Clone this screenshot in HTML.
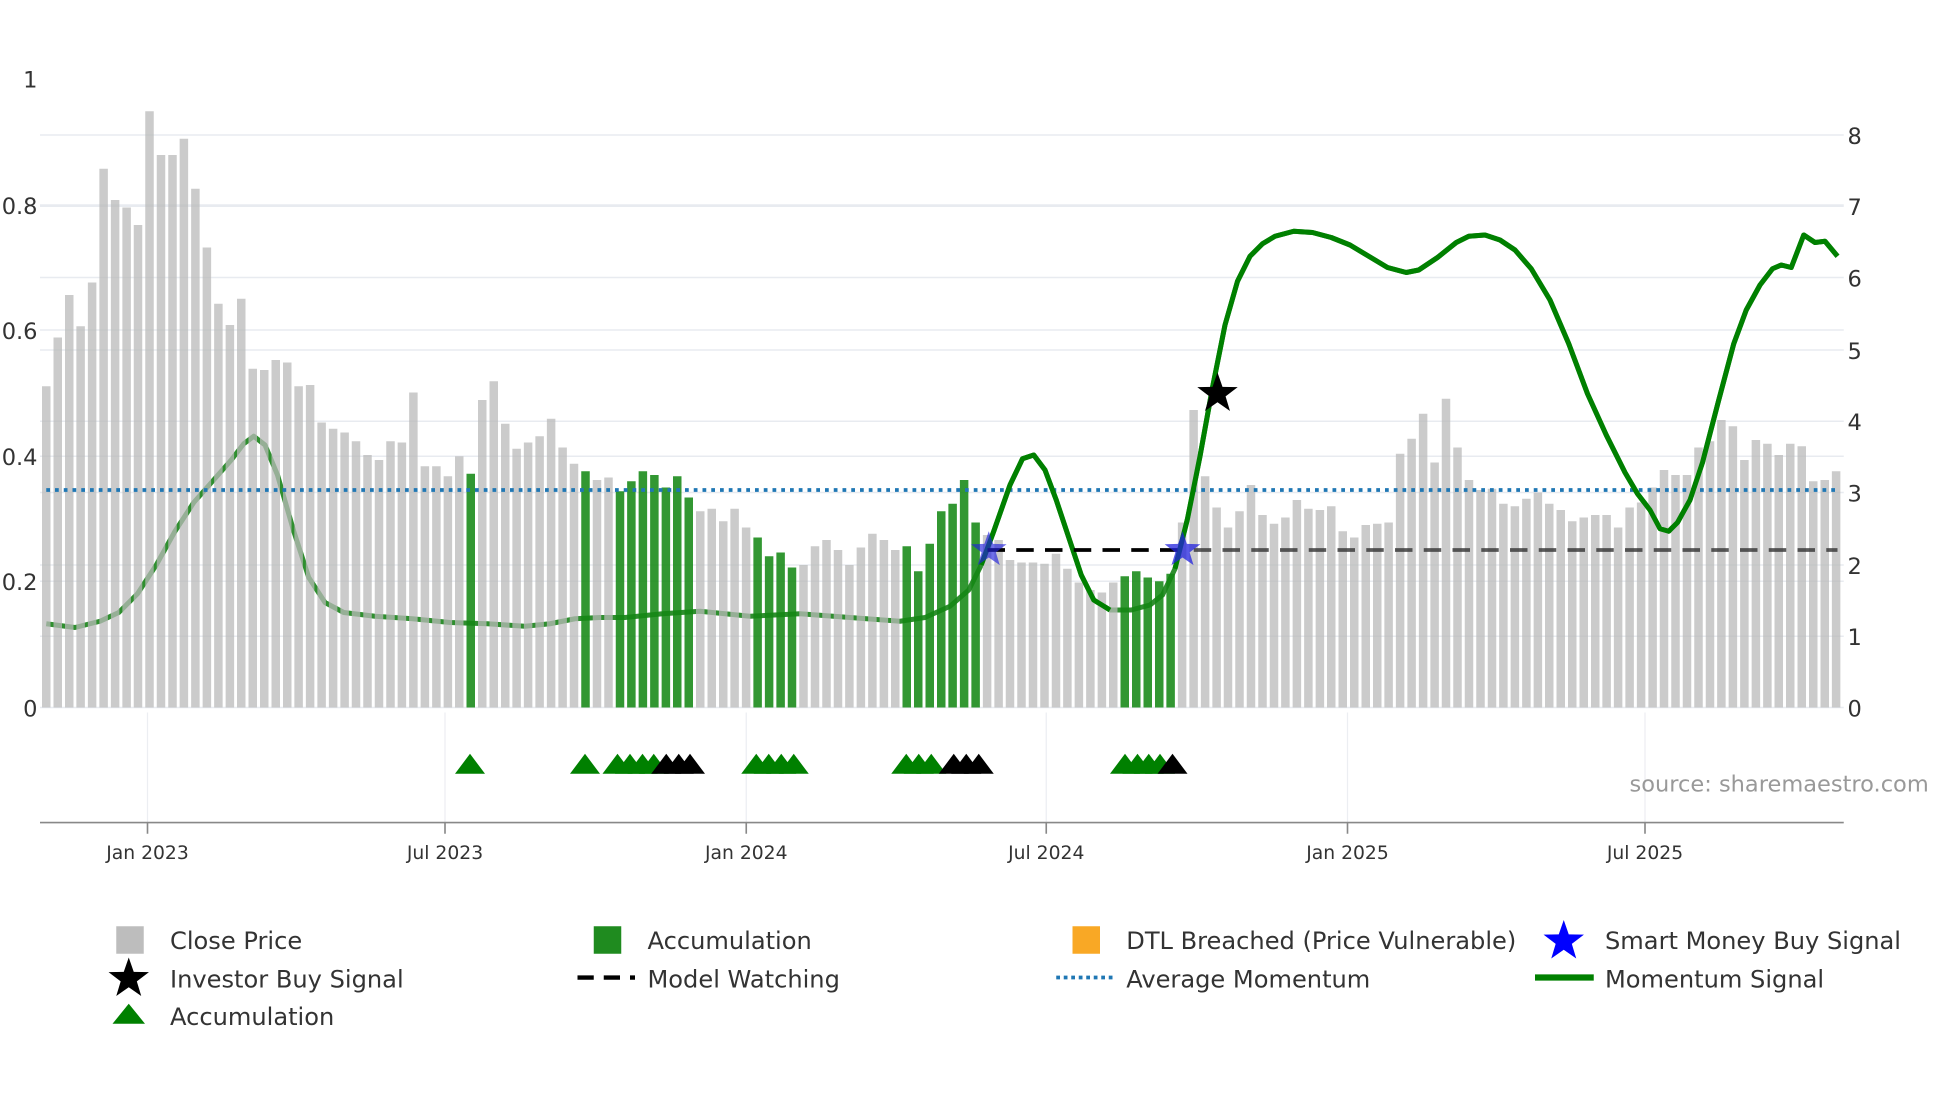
<!DOCTYPE html>
<html><head><meta charset="utf-8"><style>
html,body{margin:0;padding:0;background:#fff;}
svg{display:block;font-family:"DejaVu Sans","Liberation Sans",sans-serif;}
</style></head><body>
<svg width="1960" height="1102" viewBox="0 0 1568 881.6" xmlns="http://www.w3.org/2000/svg">
<defs><polygon id="st" points="0,-1 0.235,-0.324 0.951,-0.309 0.380,0.124 0.588,0.809 0,0.4 -0.588,0.809 -0.380,0.124 -0.951,-0.309 -0.235,-0.324"/></defs>
<rect width="1568" height="882" fill="#fff"/>
<g stroke="#e8ebf0" stroke-width="1.2">
<line x1="32" x2="1475" y1="108" y2="108"/><line x1="32" x2="1475" y1="165" y2="165"/>
<line x1="32" x2="1475" y1="222" y2="222"/><line x1="32" x2="1475" y1="280" y2="280"/>
<line x1="32" x2="1475" y1="337" y2="337"/><line x1="32" x2="1475" y1="394" y2="394"/>
<line x1="32" x2="1475" y1="452" y2="452"/><line x1="32" x2="1475" y1="509" y2="509"/>
<line x1="32" x2="1475" y1="164" y2="164"/><line x1="32" x2="1475" y1="264" y2="264"/>
<line x1="32" x2="1475" y1="365" y2="365"/><line x1="32" x2="1475" y1="465" y2="465"/>
<line x1="32" x2="1475" y1="566" y2="566"/>
</g>
<g stroke="#eceef2" stroke-width="1">
<line x1="118" x2="118" y1="570" y2="658"/><line x1="356" x2="356" y1="570" y2="658"/>
<line x1="597" x2="597" y1="570" y2="658"/><line x1="837" x2="837" y1="570" y2="658"/>
<line x1="1078" x2="1078" y1="570" y2="658"/><line x1="1316" x2="1316" y1="570" y2="658"/>
</g>
<g font-size="18" fill="#333">
<text x="30" y="70" text-anchor="end">1</text>
<text x="30" y="171" text-anchor="end">0.8</text>
<text x="30" y="271" text-anchor="end">0.6</text>
<text x="30" y="372" text-anchor="end">0.4</text>
<text x="30" y="472" text-anchor="end">0.2</text>
<text x="30" y="573" text-anchor="end">0</text>
<text x="1478" y="115">8</text><text x="1478" y="172">7</text><text x="1478" y="229">6</text>
<text x="1478" y="287">5</text><text x="1478" y="344">4</text><text x="1478" y="401">3</text>
<text x="1478" y="459">2</text><text x="1478" y="516">1</text><text x="1478" y="573">0</text>
</g>
<polyline fill="none" stroke="#2f8f2f" stroke-width="4" stroke-linejoin="round" points="37,499 60,502 80,497 95,490 110,475 125,452 140,425 155,402 170,385 185,368 195,355 203,349 212,356 222,380 235,425 247,462 260,482 275,490 300,493 330,495 360,498 390,499 420,501 440,499 460,495 480,494 500,494 530,491 560,489 600,493 640,491 680,494 720,497 740,494 760,485 775,472 785,452 795,425 808,388 818,367 827,364 836,376 845,400 855,430 865,460 875,480 888,488 905,488 920,484 930,476 940,455 950,415 960,365 970,310 980,260 990,225 1000,205 1010,195 1020,189 1035,185 1050,186 1065,190 1080,196 1095,205 1110,214 1125,218 1135,216 1150,206 1165,194 1175,189 1188,188 1200,192 1212,200 1225,215 1240,240 1255,275 1270,315 1285,348 1300,378 1310,395 1320,408 1328,423 1335,425 1342,418 1352,400 1362,370 1375,320 1387,275 1397,248 1408,228 1418,215 1425,212 1433,214 1443,188 1452,194 1460,193 1470,205"/>
<path fill="rgba(185,185,185,0.75)" d="M33.6 309h6.8V566h-6.8zM42.8 270h6.8V566h-6.8zM52 236h6.8V566h-6.8zM61.1 261h6.8V566h-6.8zM70.3 226h6.8V566h-6.8zM79.5 135h6.8V566h-6.8zM88.7 160h6.8V566h-6.8zM97.9 166h6.8V566h-6.8zM107 180h6.8V566h-6.8zM116.2 89h6.8V566h-6.8zM125.4 124h6.8V566h-6.8zM134.6 124h6.8V566h-6.8zM143.7 111h6.8V566h-6.8zM152.9 151h6.8V566h-6.8zM162.1 198h6.8V566h-6.8zM171.3 243h6.8V566h-6.8zM180.5 260h6.8V566h-6.8zM189.6 239h6.8V566h-6.8zM198.8 295h6.8V566h-6.8zM208 296h6.8V566h-6.8zM217.2 288h6.8V566h-6.8zM226.4 290h6.8V566h-6.8zM235.5 309h6.8V566h-6.8zM244.7 308h6.8V566h-6.8zM253.9 338h6.8V566h-6.8zM263.1 343h6.8V566h-6.8zM272.3 346h6.8V566h-6.8zM281.4 353h6.8V566h-6.8zM290.6 364h6.8V566h-6.8zM299.8 368h6.8V566h-6.8zM309 353h6.8V566h-6.8zM318.1 354h6.8V566h-6.8zM327.3 314h6.8V566h-6.8zM336.5 373h6.8V566h-6.8zM345.7 373h6.8V566h-6.8zM354.9 381h6.8V566h-6.8zM364 365h6.8V566h-6.8zM382.4 320h6.8V566h-6.8zM391.6 305h6.8V566h-6.8zM400.8 339h6.8V566h-6.8zM409.9 359h6.8V566h-6.8zM419.1 354h6.8V566h-6.8zM428.3 349h6.8V566h-6.8zM437.5 335h6.8V566h-6.8zM446.7 358h6.8V566h-6.8zM455.8 371h6.8V566h-6.8zM474.2 384h6.8V566h-6.8zM483.4 382h6.8V566h-6.8zM556.8 409h6.8V566h-6.8zM566 407h6.8V566h-6.8zM575.2 417h6.8V566h-6.8zM584.3 407h6.8V566h-6.8zM593.5 422h6.8V566h-6.8zM639.4 452h6.8V566h-6.8zM648.6 437h6.8V566h-6.8zM657.8 432h6.8V566h-6.8zM667 440h6.8V566h-6.8zM676.1 452h6.8V566h-6.8zM685.3 438h6.8V566h-6.8zM694.5 427h6.8V566h-6.8zM703.7 432h6.8V566h-6.8zM712.8 440h6.8V566h-6.8zM786.3 428h6.8V566h-6.8zM795.5 432h6.8V566h-6.8zM804.6 448h6.8V566h-6.8zM813.8 450h6.8V566h-6.8zM823 450h6.8V566h-6.8zM832.2 451h6.8V566h-6.8zM841.4 443h6.8V566h-6.8zM850.5 455h6.8V566h-6.8zM859.7 466h6.8V566h-6.8zM868.9 472h6.8V566h-6.8zM878.1 474h6.8V566h-6.8zM887.2 466h6.8V566h-6.8zM942.3 418h6.8V566h-6.8zM951.5 328h6.8V566h-6.8zM960.7 381h6.8V566h-6.8zM969.9 406h6.8V566h-6.8zM979 422h6.8V566h-6.8zM988.2 409h6.8V566h-6.8zM997.4 388h6.8V566h-6.8zM1006.6 412h6.8V566h-6.8zM1015.8 419h6.8V566h-6.8zM1024.9 414h6.8V566h-6.8zM1034.1 400h6.8V566h-6.8zM1043.3 407h6.8V566h-6.8zM1052.5 408h6.8V566h-6.8zM1061.6 405h6.8V566h-6.8zM1070.8 425h6.8V566h-6.8zM1080 430h6.8V566h-6.8zM1089.2 420h6.8V566h-6.8zM1098.4 419h6.8V566h-6.8zM1107.5 418h6.8V566h-6.8zM1116.7 363h6.8V566h-6.8zM1125.9 351h6.8V566h-6.8zM1135.1 331h6.8V566h-6.8zM1144.3 370h6.8V566h-6.8zM1153.4 319h6.8V566h-6.8zM1162.6 358h6.8V566h-6.8zM1171.8 384h6.8V566h-6.8zM1181 392h6.8V566h-6.8zM1190.2 391h6.8V566h-6.8zM1199.3 403h6.8V566h-6.8zM1208.5 405h6.8V566h-6.8zM1217.7 399h6.8V566h-6.8zM1226.9 394h6.8V566h-6.8zM1236 403h6.8V566h-6.8zM1245.2 408h6.8V566h-6.8zM1254.4 417h6.8V566h-6.8zM1263.6 414h6.8V566h-6.8zM1272.8 412h6.8V566h-6.8zM1281.9 412h6.8V566h-6.8zM1291.1 422h6.8V566h-6.8zM1300.3 406h6.8V566h-6.8zM1309.5 402h6.8V566h-6.8zM1318.7 390h6.8V566h-6.8zM1327.8 376h6.8V566h-6.8zM1337 380h6.8V566h-6.8zM1346.2 380h6.8V566h-6.8zM1355.4 358h6.8V566h-6.8zM1364.6 353h6.8V566h-6.8zM1373.7 336h6.8V566h-6.8zM1382.9 341h6.8V566h-6.8zM1392.1 368h6.8V566h-6.8zM1401.3 352h6.8V566h-6.8zM1410.5 355h6.8V566h-6.8zM1419.6 364h6.8V566h-6.8zM1428.8 355h6.8V566h-6.8zM1438 357h6.8V566h-6.8zM1447.2 385h6.8V566h-6.8zM1456.4 384h6.8V566h-6.8zM1465.5 377h6.8V566h-6.8z"/>
<path fill="rgba(20,135,20,0.87)" d="M373.2 379h6.8V566h-6.8zM465 377h6.8V566h-6.8zM492.6 393h6.8V566h-6.8zM501.7 385h6.8V566h-6.8zM510.9 377h6.8V566h-6.8zM520.1 380h6.8V566h-6.8zM529.3 390h6.8V566h-6.8zM538.4 381h6.8V566h-6.8zM547.6 398h6.8V566h-6.8zM602.7 430h6.8V566h-6.8zM611.9 445h6.8V566h-6.8zM621.1 442h6.8V566h-6.8zM630.2 454h6.8V566h-6.8zM722 437h6.8V566h-6.8zM731.2 457h6.8V566h-6.8zM740.4 435h6.8V566h-6.8zM749.6 409h6.8V566h-6.8zM758.7 403h6.8V566h-6.8zM767.9 384h6.8V566h-6.8zM777.1 418h6.8V566h-6.8zM896.4 461h6.8V566h-6.8zM905.6 457h6.8V566h-6.8zM914.8 462h6.8V566h-6.8zM924 465h6.8V566h-6.8zM933.1 459h6.8V566h-6.8z"/>
<line x1="37" x2="1472" y1="392" y2="392" stroke="#1f77b4" stroke-width="3" stroke-dasharray="3,4"/>
<polyline fill="none" stroke="#008000" stroke-width="4" stroke-linejoin="round" points="785,452 795,425 808,388 818,367 827,364 836,376 845,400 855,430 865,460 875,480 888,488"/>
<polyline fill="none" stroke="#008000" stroke-width="4" stroke-linejoin="round" points="940,455 950,415 960,365 970,310 980,260 990,225 1000,205 1010,195 1020,189 1035,185 1050,186 1065,190 1080,196 1095,205 1110,214 1125,218 1135,216 1150,206 1165,194 1175,189 1188,188 1200,192 1212,200 1225,215 1240,240 1255,275 1270,315 1285,348 1300,378 1310,395 1320,408 1328,423 1335,425 1342,418 1352,400 1362,370 1375,320 1387,275 1397,248 1408,228 1418,215 1425,212 1433,214 1443,188 1452,194 1460,193 1470,205"/>
<line x1="790" x2="945" y1="440" y2="440" stroke="#000" stroke-width="3" stroke-dasharray="14,9"/>
<line x1="955" x2="1470" y1="440" y2="440" stroke="#333" stroke-width="3" stroke-dasharray="14,9" opacity="0.8"/>
<use href="#st" transform="translate(791,440) scale(15)" fill="#2222dd" opacity="0.65"/>
<use href="#st" transform="translate(946,440) scale(15)" fill="#2222dd" opacity="0.75"/>
<use href="#st" transform="translate(974,315) scale(17)" fill="#000"/>
<g fill="#008000">
<polygon points="376,603 388,619 364,619"/><polygon points="468,603 480,619 456,619"/>
<polygon points="494,603 506,619 482,619"/><polygon points="504,603 516,619 492,619"/>
<polygon points="514,603 526,619 502,619"/><polygon points="523,603 535,619 511,619"/>
<polygon points="605,603 617,619 593,619"/><polygon points="615,603 627,619 603,619"/>
<polygon points="625,603 637,619 613,619"/><polygon points="635,603 647,619 623,619"/>
<polygon points="725,603 737,619 713,619"/><polygon points="735,603 747,619 723,619"/>
<polygon points="745,603 757,619 733,619"/>
<polygon points="900,603 912,619 888,619"/><polygon points="910,603 922,619 898,619"/>
<polygon points="919,603 931,619 907,619"/><polygon points="928,603 940,619 916,619"/>
</g>
<g fill="#000">
<polygon points="533,603 545,619 521,619"/><polygon points="543,603 555,619 531,619"/>
<polygon points="552,603 564,619 540,619"/>
<polygon points="763,603 775,619 751,619"/><polygon points="773,603 785,619 761,619"/>
<polygon points="783,603 795,619 771,619"/>
<polygon points="938,603 950,619 926,619"/>
</g>
<line x1="32" x2="1475" y1="658" y2="658" stroke="#888" stroke-width="1.3"/>
<g stroke="#888" stroke-width="1.3">
<line x1="118" x2="118" y1="658" y2="667"/><line x1="356" x2="356" y1="658" y2="667"/>
<line x1="597" x2="597" y1="658" y2="667"/><line x1="837" x2="837" y1="658" y2="667"/>
<line x1="1078" x2="1078" y1="658" y2="667"/><line x1="1316" x2="1316" y1="658" y2="667"/>
</g>
<g font-size="15" fill="#333" text-anchor="middle">
<text x="118" y="687">Jan 2023</text><text x="356" y="687">Jul 2023</text>
<text x="597" y="687">Jan 2024</text><text x="837" y="687">Jul 2024</text>
<text x="1078" y="687">Jan 2025</text><text x="1316" y="687">Jul 2025</text>
</g>
<text x="1543" y="633" font-size="18" fill="#999" text-anchor="end">source: sharemaestro.com</text>
<g font-size="19.3" fill="#333">
<rect x="93" y="741" width="22" height="22" fill="#bdbdbd"/><text x="136" y="759">Close Price</text>
<rect x="475" y="741" width="22" height="22" fill="#1f8b1f"/><text x="518" y="759">Accumulation</text>
<rect x="858" y="741" width="22" height="22" fill="#f9a825"/><text x="901" y="759">DTL Breached (Price Vulnerable)</text>
<text x="1284" y="759">Smart Money Buy Signal</text>
<text x="136" y="790">Investor Buy Signal</text>
<line x1="462" x2="508" y1="782" y2="782" stroke="#000" stroke-width="3.5" stroke-dasharray="13,8"/><text x="518" y="790">Model Watching</text>
<line x1="845" x2="890" y1="782" y2="782" stroke="#1f77b4" stroke-width="3" stroke-dasharray="3,3"/><text x="901" y="790">Average Momentum</text>
<line x1="1228" x2="1275" y1="782" y2="782" stroke="#008000" stroke-width="5"/><text x="1284" y="790">Momentum Signal</text>
<polygon points="103,803 116,819 90,819" fill="#008000"/><text x="136" y="820">Accumulation</text>
</g>
<use href="#st" transform="translate(1251,753) scale(17)" fill="#0000ff"/>
<use href="#st" transform="translate(103,783) scale(17)" fill="#000"/>
</svg>
</body></html>
